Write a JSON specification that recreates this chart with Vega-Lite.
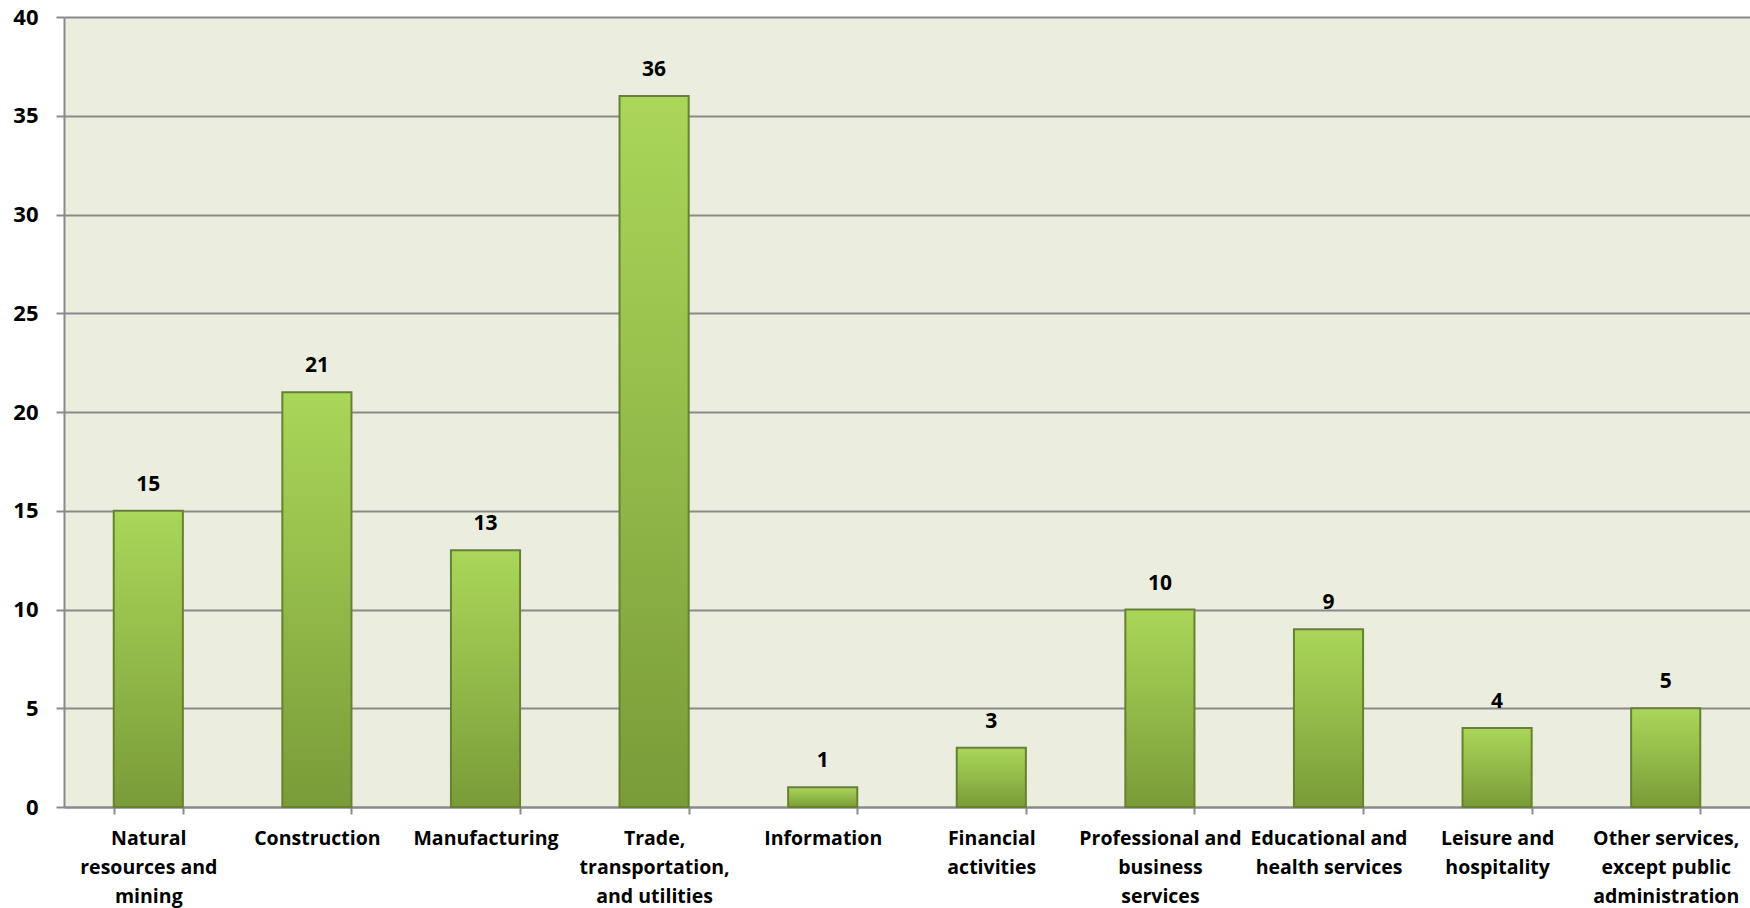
{
  "$schema": "https://vega.github.io/schema/vega-lite/v6.json",
  "width": 1686,
  "height": 790,
  "autosize": {"type": "none"},
  "padding": {"left": 64, "top": 17, "right": 0, "bottom": 101},
  "background": "#ffffff",
  "config": {
    "view": {"fill": "#EBEEDE", "stroke": null},
    "font": "Open Sans"
  },
  "data": {
    "values": [
      {"industry": "Natural resources and mining", "value": 15},
      {"industry": "Construction", "value": 21},
      {"industry": "Manufacturing", "value": 13},
      {"industry": "Trade, transportation, and utilities", "value": 36},
      {"industry": "Information", "value": 1},
      {"industry": "Financial activities", "value": 3},
      {"industry": "Professional and business services", "value": 10},
      {"industry": "Educational and health services", "value": 9},
      {"industry": "Leisure and hospitality", "value": 4},
      {"industry": "Other services, except public administration", "value": 5}
    ]
  },
  "encoding": {
    "x": {
      "field": "industry",
      "type": "nominal",
      "sort": null,
      "scale": {"paddingInner": 0.59, "paddingOuter": 0.295},
      "axis": {
        "title": null,
        "labelAngle": 0,
        "labelFont": "Open Sans",
        "labelFontWeight": "bold",
        "labelFontSize": 19.5,
        "labelColor": "#000000",
        "labelLineHeight": 29,
        "labelPadding": 15,
        "labelBaseline": "top",
        "labelLimit": 300,
        "labelExpr": "({'Natural resources and mining': ['Natural','resources and','mining'], 'Construction': ['Construction'], 'Manufacturing': ['Manufacturing'], 'Trade, transportation, and utilities': ['Trade,','transportation,','and utilities'], 'Information': ['Information'], 'Financial activities': ['Financial','activities'], 'Professional and business services': ['Professional and','business','services'], 'Educational and health services': ['Educational and','health services'], 'Leisure and hospitality': ['Leisure and','hospitality'], 'Other services, except public administration': ['Other services,','except public','administration']})[datum.value]",
        "tickBand": "extent",
        "tickSize": 7,
        "tickColor": "#8A8A8A",
        "tickWidth": 2,
        "domainColor": "#8A8A8A",
        "domainWidth": 2,
        "grid": false
      }
    },
    "y": {
      "field": "value",
      "type": "quantitative",
      "scale": {"domain": [0, 40], "nice": false},
      "axis": {
        "title": null,
        "values": [0, 5, 10, 15, 20, 25, 30, 35, 40],
        "labelFont": "Open Sans",
        "labelFontWeight": "bold",
        "labelFontSize": 22,
        "labelColor": "#000000",
        "labelPadding": 18,
        "tickSize": 8,
        "tickColor": "#8A8A8A",
        "tickWidth": 2,
        "domainColor": "#8A8A8A",
        "domainWidth": 2,
        "grid": true,
        "gridColor": "#8A8A8A",
        "gridWidth": 2
      }
    }
  },
  "layer": [
    {
      "mark": {
        "type": "bar",
        "fill": {
          "gradient": "linear",
          "x1": 0, "y1": 0, "x2": 0, "y2": 1,
          "stops": [
            {"offset": 0, "color": "#AAD65A"},
            {"offset": 0.5, "color": "#92BA49"},
            {"offset": 1, "color": "#7A9B39"}
          ]
        },
        "stroke": "#66822F",
        "strokeWidth": 2
      }
    },
    {
      "mark": {
        "type": "text",
        "font": "Open Sans",
        "fontWeight": "bold",
        "fontSize": 21,
        "color": "#000000",
        "baseline": "middle",
        "dy": -26
      },
      "encoding": {"text": {"field": "value", "type": "quantitative"}}
    }
  ]
}
